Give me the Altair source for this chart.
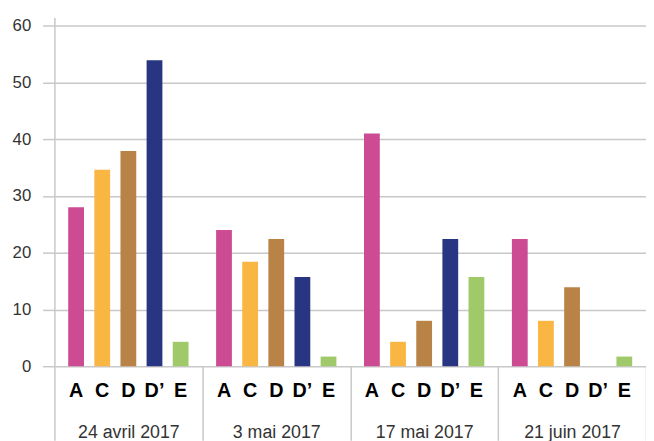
import altair as alt
import pandas as pd

dates = ["24 avril 2017", "3 mai 2017", "17 mai 2017", "21 juin 2017"]
categories = ["A", "C", "D", "D’", "E"]
vals_A = [28.0, 24.0, 41.0, 22.4]
vals_C = [34.6, 18.4, 4.3, 8.0]
vals_D = [37.9, 22.4, 8.0, 13.9]
vals_Dp = [53.9, 15.7, 22.4, 0.0]
vals_E = [4.3, 1.7, 15.7, 1.7]
colors = ["#CC4B93", "#F9B642", "#B98246", "#283583", "#A0C96A"]

series = [vals_A, vals_C, vals_D, vals_Dp, vals_E]
rows = []
for c, vals in zip(categories, series):
    for d, v in zip(dates, vals):
        rows.append({"date": d, "cat": c, "value": v})
df = pd.DataFrame(rows)

grey = "#c8c8c8"
x = alt.X(
    "date:N", sort=dates,
    scale=alt.Scale(paddingInner=0, paddingOuter=0),
    axis=alt.Axis(title=None, labelAngle=0, domain=False, ticks=True,
                  tickBand="extent", tickSize=75, tickColor=grey, tickWidth=1.5,
                  labelPadding=-17, labelFontSize=18, labelColor="#333333",
                  labelFont="Liberation Sans", grid=False),
)
xo = alt.XOffset("cat:N", sort=categories,
                 scale=alt.Scale(paddingInner=0.396, paddingOuter=0.528))

bars = alt.Chart(df).mark_bar().encode(
    x=x,
    xOffset=xo,
    y=alt.Y("value:Q", scale=alt.Scale(domain=[0, 61.4], nice=False),
            axis=alt.Axis(values=[0, 10, 20, 30, 40, 50, 60], title=None,
                          domain=True, domainColor=grey, domainWidth=1.5,
                          tickSize=12, tickColor=grey, tickWidth=1.5,
                          labelPadding=12, labelFontSize=17, labelColor="#333333",
                          labelFont="Liberation Sans",
                          grid=True, gridColor=grey, gridWidth=1.5)),
    color=alt.Color("cat:N", sort=categories,
                    scale=alt.Scale(domain=categories, range=colors), legend=None),
)

labels = alt.Chart(df).mark_text(
    font="Liberation Sans", fontWeight="bold", fontSize=20, color="black",
    baseline="middle", align="center",
).encode(
    x=x,
    xOffset=xo,
    y=alt.value(378),
    text="cat:N",
)

chart = alt.layer(bars, labels).properties(
    width=599, height=353,
    autosize=alt.AutoSizeParams(type="none"),
    padding={"left": 47, "top": 7, "right": 0, "bottom": 73},
).configure_view(stroke=None)

chart.save("out.html", embed_options={"renderer": "svg", "actions": False})
